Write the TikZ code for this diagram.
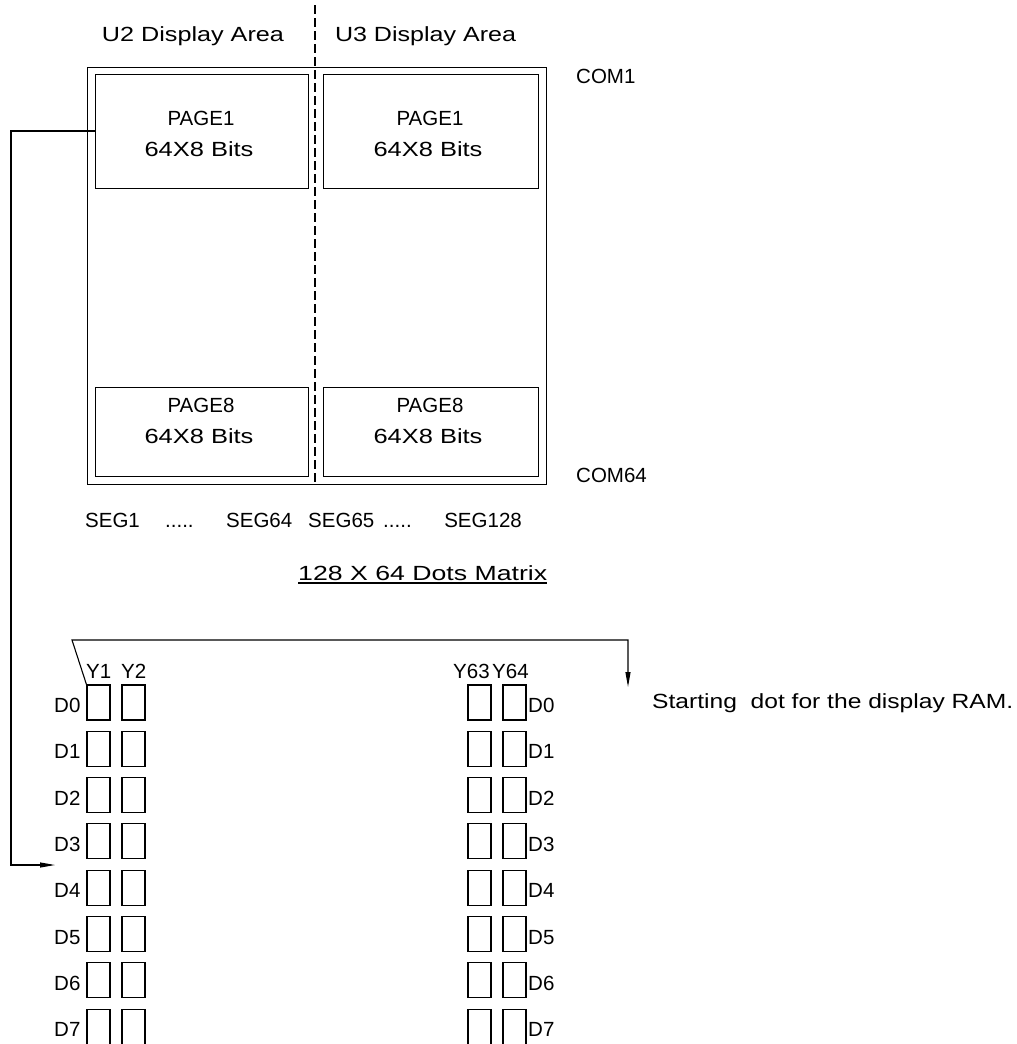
\documentclass[tikz,border=0pt]{standalone}
\usepackage{graphicx}
\usepackage{fontspec}
\setmainfont{Liberation Sans}
\usetikzlibrary{arrows.meta}
\newcommand{\fw}[2]{\resizebox{#1pt}{\height}{#2}}
\begin{document}
\begin{tikzpicture}[x=1pt,y=-1pt,
  every node/.style={font=\fontsize{20.5}{24}\selectfont, inner sep=0pt},
  page/.style={draw, line width=1.1pt, minimum width=213pt},
  cell/.style={draw, line width=1.1pt, minimum width=23pt, minimum height=35pt},
  wire/.style={line width=1.1pt},
  arr/.style={line width=1.1pt, -{Triangle[length=15pt,width=5pt]}},
  txt/.style={anchor=base west},
  ctxt/.style={anchor=base}
]
\useasboundingbox (0,0) rectangle (1017,1044);

% outer matrix
\node[draw, line width=1.1pt, minimum width=459pt, minimum height=417pt, anchor=north west] (outer) at (87,67) {};
\coordinate (dtop) at (315,5);
\coordinate (dbot) at (315,484);
\draw[wire, dash pattern=on 9pt off 4pt] (dtop) -- (dbot);

\node[page, minimum height=114pt, anchor=north west] (p1l) at (95,74) {};
\node[page, minimum width=215pt, minimum height=114pt, anchor=north west] (p1r) at (323,74) {};
\node[page, minimum height=89pt, anchor=north west] (p8l) at (95,387) {};
\node[page, minimum width=215pt, minimum height=89pt, anchor=north west] (p8r) at (323,387) {};

\node[ctxt] (p1lt) at (201,125) {PAGE1};
\node[ctxt] (p1lb) at (199,156) {\fw{109}{64X8 Bits}};
\node[ctxt] (p1rt) at (430,125) {PAGE1};
\node[ctxt] (p1rb) at (428,156) {\fw{109}{64X8 Bits}};
\node[ctxt] (p8lt) at (201,412) {PAGE8};
\node[ctxt] (p8lb) at (199,443) {\fw{109}{64X8 Bits}};
\node[ctxt] (p8rt) at (430,412) {PAGE8};
\node[ctxt] (p8rb) at (428,443) {\fw{109}{64X8 Bits}};

\node[ctxt] (u2) at (193,41) {\fw{182}{U2 Display Area}};
\node[ctxt] (u3) at (425.5,41) {\fw{181}{U3 Display Area}};
\node[txt] (com1) at (576,83) {COM1};
\node[txt] (com64) at (576,482) {COM64};

\node[txt] (s1) at (85,527) {SEG1};
\node[txt] (s2) at (165,527) {.....};
\node[txt] (s3) at (226,527) {SEG64};
\node[txt] (s4) at (308,527) {SEG65};
\node[txt] (s5) at (383,527) {.....};
\node[anchor=base east] (s6) at (522,527) {SEG128};

\node[txt] (title) at (298,580) {\fw{249}{128 X 64 Dots Matrix}};
\draw[wire] ([yshift=-3pt]title.base west) -- ([yshift=-3pt]title.base east);

% cells
\foreach \i in {0,...,7}{
  \pgfmathsetmacro{\yy}{702.5+46.3*\i}
  \node[cell] (a\i) at (98.5,\yy) {};
  \node[cell] (b\i) at (133.5,\yy) {};
  \node[cell] (c\i) at (479.5,\yy) {};
  \node[cell] (d\i) at (514.5,\yy) {};
  \node[txt] (dl\i) at (54,\yy+10) {D\i};
  \node[txt] (dr\i) at (528,\yy+10) {D\i};
}
\node[txt] (y1) at (86,678) {Y1};
\node[txt] (y2) at (121,678) {Y2};
\node[txt] (y63) at (453,678) {Y63};
\node[txt] (y64) at (492,678) {Y64};

\node[txt] (start) at (652,708) {\fw{361}{Starting\ \ dot for the display RAM.}};

% connectors
\coordinate (lend) at (55,865);
\draw[arr] (p1l.west |- 0,131) -- (11,131) |- (lend);
\coordinate (tc) at (72,640);
\coordinate (tend) at (628,687);
\draw[arr] (a0.north west) -- (tc) -| (tend);
\end{tikzpicture}
\end{document}
